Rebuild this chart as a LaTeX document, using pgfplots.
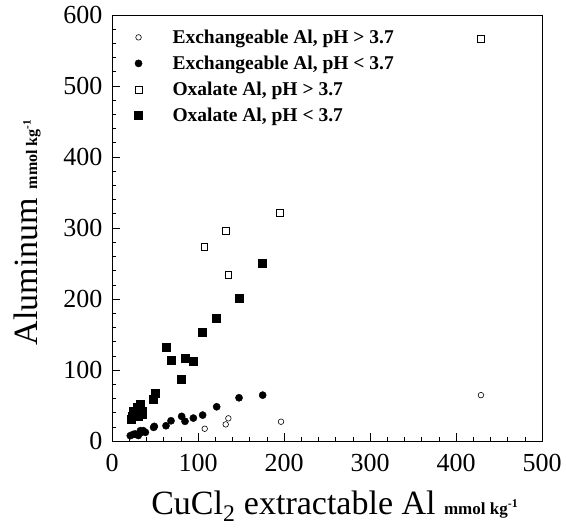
\documentclass[border=0pt]{standalone}
\usepackage{fontspec}
\setmainfont{Liberation Serif}
\usepackage{pgfplots}
\pgfplotsset{compat=1.18}
\begin{document}
\begin{tikzpicture}
\begin{axis}[
  name=ax,
  scale only axis,
  width=430pt, height=426pt,
  xmin=0, xmax=500, ymin=0, ymax=600,
  xtick={0,100,...,500}, ytick={0,100,...,600},
  minor x tick num=4, minor y tick num=4,
  tick align=inside,
  xtick pos=bottom, ytick pos=left,
  major tick length=8pt, minor tick length=4pt,
  axis line style={line width=0.8pt},
  tick style={line width=0.6pt, black},
  /pgf/number format/assume math mode=true,
  ticklabel style={font=\fontsize{26}{26}\selectfont},
  yticklabel style={xshift=-6pt},
  xticklabel style={yshift=-10pt},
  xlabel={\fontsize{34}{34}\selectfont CuCl\textsubscript{2} extractable Al\ \fontsize{17}{17}\selectfont\textbf{mmol kg\textsuperscript{-1}}},
  ylabel={\fontsize{34}{34}\selectfont Aluminum\ \fontsize{16}{16}\selectfont\textbf{mmol kg\textsuperscript{-1}}},
  xlabel style={at={(axis description cs:0.518,0)}, anchor=base, yshift=-73pt, inner sep=0pt},
  ylabel style={at={(axis description cs:-0.1744,0.49)}, anchor=base, inner sep=0pt},
  legend style={draw=none, fill=none, at={(rel axis cs:0.045,0.975)}, anchor=north west,
    font=\fontsize{19.5}{19.5}\selectfont\bfseries, row sep=7pt,
    legend cell align=left},
]
\addplot[only marks, mark=o, mark size=2.8pt, line width=0.6pt] coordinates {
(107.8,17.3)(132.2,23.4)(135.3,31.9)(196.5,27.2)(429,64.6)};
\addlegendentry{\hspace*{28pt}Exchangeable Al, pH > 3.7}
\addplot[only marks, mark=*, mark size=3.6pt, black] coordinates {
(21.3,7.5)(24.8,9.4)(27,9.8)(30.6,7.8)(32.6,11.3)(33,14.5)(36.4,14.5)(38.8,12.2)
(48.4,19.2)(49.2,20.6)(62.8,21.5)(68.6,28.5)(81,34.7)(84.9,27.7)(94.6,32.3)
(105.4,36.5)(121.7,48.2)(147.7,60.9)(175.2,64.6)};
\addlegendentry{\hspace*{28pt}Exchangeable Al, pH < 3.7}
\addplot[only marks, mark=square, mark size=3.4pt, line width=0.6pt] coordinates {
(107.4,273)(132.6,295.5)(135.3,234.6)(195.3,321.3)(429,566)};
\addlegendentry{\hspace*{28pt}Oxalate Al, pH > 3.7}
\addplot[only marks, mark=square*, mark size=4pt, black] coordinates {
(22,31)(23.3,35.6)(25.2,42.6)(29,47.3)(31,35.6)(33,52)(34.9,42.6)(35.6,38)
(48,59)(50,67)(63.2,132.5)(68.6,114.3)(81,87.1)(84.9,116.2)(94.6,112)
(105.4,153.6)(121.7,172.4)(148,200.5)(175.2,251)};
\addlegendentry{\hspace*{28pt}Oxalate Al, pH < 3.7}
\end{axis}
\pgfresetboundingbox
\path[use as bounding box] ([shift={(-112pt,-88pt)}]ax.south west) rectangle ([shift={(24pt,15pt)}]ax.north east);
\end{tikzpicture}
\end{document}
